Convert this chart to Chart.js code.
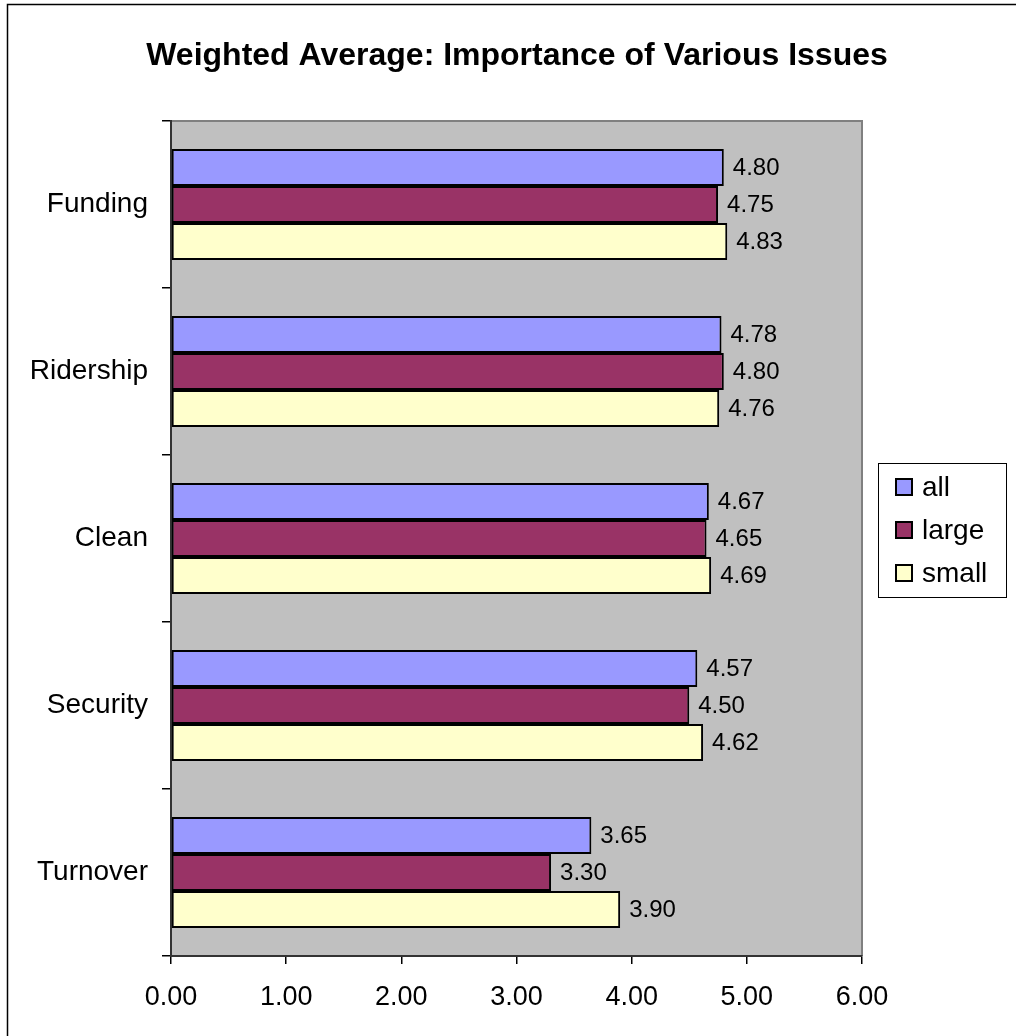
<!DOCTYPE html>
<html>
<head>
<meta charset="utf-8">
<title>Weighted Average: Importance of Various Issues</title>
<script src="https://cdn.jsdelivr.net/npm/chart.js@4/dist/chart.umd.min.js"></script>
<style>
  html, body { margin: 0; padding: 0; background: #fff; }
  #wrap { width: 1016px; height: 1036px; position: relative; }
</style>
</head>
<body>
<div id="wrap"><canvas id="chart-issues"></canvas></div>
<script>
const issues = [`Funding`, `Ridership`, `Clean`, `Security`, `Turnover`];
const allScores = [4.80, 4.78, 4.67, 4.57, 3.65];
const largeScores = [4.75, 4.80, 4.65, 4.50, 3.30];
const smallScores = [4.83, 4.76, 4.69, 4.62, 3.90];
const scoreTicks = [0, 1, 2, 3, 4, 5, 6];

const font = `'Liberation Sans', Arial, sans-serif`;

// plot background, outer frame and title
const frame = {
  id: `frame`,
  beforeDraw(chart) {
    const { ctx, chartArea: a } = chart;
    ctx.save();
    ctx.fillStyle = `#fff`;
    ctx.fillRect(0, 0, chart.width, chart.height);
    ctx.fillStyle = `#c0c0c0`;
    ctx.fillRect(a.left, a.top, a.right - a.left, a.bottom - a.top);
    ctx.strokeStyle = `#808080`;
    ctx.lineWidth = 2;
    ctx.beginPath();
    ctx.moveTo(a.left, a.top);
    ctx.lineTo(a.right, a.top);
    ctx.lineTo(a.right, a.bottom);
    ctx.stroke();
    ctx.strokeStyle = `#000`;
    ctx.lineWidth = 1.5;
    ctx.strokeRect(7.5, 4.5, chart.width + 10, chart.height + 10);
    ctx.fillStyle = `#000`;
    ctx.font = `bold 32px ${font}`;
    ctx.textAlign = `center`;
    ctx.textBaseline = `alphabetic`;
    ctx.fillText(`Weighted Average: Importance of Various Issues`, 517, 65);
    ctx.restore();
  }
};

// value labels at the end of each bar
const barValues = {
  id: `barValues`,
  afterDatasetsDraw(chart) {
    const { ctx } = chart;
    ctx.save();
    ctx.fillStyle = `#000`;
    ctx.font = `24px ${font}`;
    ctx.textAlign = `left`;
    ctx.textBaseline = `middle`;
    chart.data.datasets.forEach((ds, i) => {
      chart.getDatasetMeta(i).data.forEach((bar, j) => {
        ctx.fillText(ds.data[j].toFixed(2), bar.x + 9, bar.y + 1);
      });
    });
    ctx.restore();
  }
};

// boxed legend on the right
const boxLegend = {
  id: `boxLegend`,
  afterDraw(chart) {
    const { ctx } = chart;
    const x = 878, y = 463, w = 128, h = 134;
    ctx.save();
    ctx.fillStyle = `#fff`;
    ctx.fillRect(x, y, w, h);
    ctx.strokeStyle = `#000`;
    ctx.lineWidth = 1;
    ctx.strokeRect(x + 0.5, y + 0.5, w, h);
    ctx.font = `28px ${font}`;
    ctx.textAlign = `left`;
    ctx.textBaseline = `middle`;
    chart.data.datasets.forEach((ds, i) => {
      const cy = 487 + i * 43;
      ctx.fillStyle = ds.backgroundColor;
      ctx.fillRect(896, cy - 8, 16, 16);
      ctx.lineWidth = 2;
      ctx.strokeRect(896, cy - 8, 16, 16);
      ctx.fillStyle = `#000`;
      ctx.fillText(ds.label, 922, cy + 1);
    });
    ctx.restore();
  }
};

const bar = (label, data, color) => ({
  label,
  data,
  backgroundColor: color,
  borderColor: `#000`,
  borderWidth: 2,
  borderSkipped: false,
  categoryPercentage: 0.666,
  barPercentage: 1.0
});

new Chart(document.getElementById(`chart-issues`), {
  type: `bar`,
  data: {
    labels: issues,
    datasets: [
      bar(`all`, allScores, `#9999ff`),
      bar(`large`, largeScores, `#993366`),
      bar(`small`, smallScores, `#ffffcc`)
    ]
  },
  options: {
    indexAxis: `y`,
    responsive: true,
    maintainAspectRatio: false,
    animation: false,
    layout: { padding: { top: 121, right: 154, bottom: 0, left: 0 } },
    plugins: {
      legend: { display: false },
      title: { display: false },
      tooltip: { enabled: false }
    },
    scales: {
      x: {
        min: scoreTicks[0],
        max: scoreTicks[scoreTicks.length - 1],
        afterBuildTicks: axis => { axis.ticks = scoreTicks.map(value => ({ value })); },
        afterFit: axis => { axis.height = 80; },
        grid: { drawOnChartArea: false, drawTicks: true, tickLength: 8, color: `#000`, lineWidth: 1.5 },
        border: { display: true, color: `#333`, width: 2 },
        ticks: {
          color: `#000`,
          padding: 17,
          font: { family: font, size: 27 },
          callback: v => v.toFixed(2)
        }
      },
      y: {
        afterFit: axis => { axis.width = 171; },
        grid: { drawOnChartArea: false, drawTicks: true, tickLength: 9, color: `#000`, lineWidth: 1.5, offset: true },
        border: { display: true, color: `#333`, width: 2 },
        ticks: {
          color: `#000`,
          padding: 14,
          font: { family: font, size: 28 }
        }
      }
    }
  },
  plugins: [frame, barValues, boxLegend]
});
</script>
</body>
</html>
